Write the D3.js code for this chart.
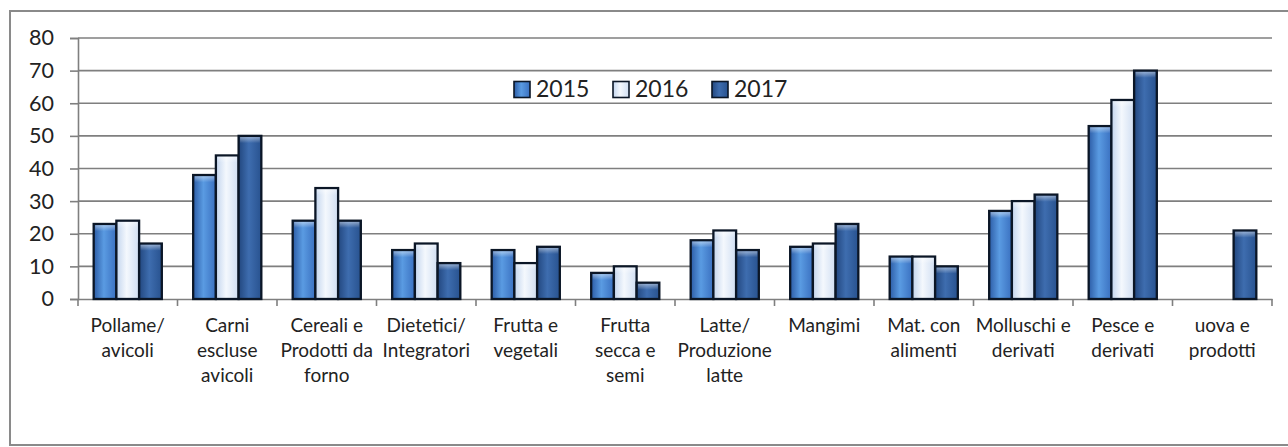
<!DOCTYPE html>
<html><head><meta charset="utf-8">
<script src="https://cdn.jsdelivr.net/npm/d3@7"></script>
<style>
html,body{margin:0;padding:0;background:#fff;}
svg{display:block;}
text{font-family:Lato,"Open Sans",sans-serif;fill:#222;}
</style></head>
<body>
<svg id="chart" width="1288" height="447"></svg>
<script>
const categories = ["Pollame/ avicoli","Carni escluse avicoli","Cereali e Prodotti da forno","Dietetici/ Integratori","Frutta e vegetali","Frutta secca e semi","Latte/ Produzione latte","Mangimi","Mat. con alimenti","Molluschi e derivati","Pesce e derivati","uova e prodotti"];
const categoryLines = [["Pollame/","avicoli"],["Carni","escluse","avicoli"],["Cereali e","Prodotti da","forno"],["Dietetici/","Integratori"],["Frutta e","vegetali"],["Frutta","secca e","semi"],["Latte/","Produzione","latte"],["Mangimi"],["Mat. con","alimenti"],["Molluschi e","derivati"],["Pesce e","derivati"],["uova e","prodotti"]];
const years = ["2015","2016","2017"];
const values2015 = [23,38,24,15,15,8,18,16,13,27,53,null];
const values2016 = [24,44,34,17,11,10,21,17,13,30,61,null];
const values2017 = [17,50,24,11,16,5,15,23,10,32,70,21];
const yTicks = [0,10,20,30,40,50,60,70,80];

const series = [values2015, values2016, values2017];
const svg = d3.select("#chart");

// gradients
const defs = svg.append("defs");
const grads = [
  ["g2015", ["#2c5ca6","#5a9be2","#3a70c0"]],
  ["g2016", ["#c3d5ee","#f4f8fd","#d0def2"]],
  ["g2017", ["#22477f","#3e6daf","#28528f"]]
];
grads.forEach(([id, cols]) => {
  const g = defs.append("linearGradient").attr("id", id).attr("x1","0%").attr("x2","100%").attr("y1","0%").attr("y2","0%");
  g.append("stop").attr("offset","0%").attr("stop-color",cols[0]);
  g.append("stop").attr("offset","45%").attr("stop-color",cols[1]);
  g.append("stop").attr("offset","100%").attr("stop-color",cols[2]);
});
const topHi = defs.append("linearGradient").attr("id","hi").attr("x1","0").attr("x2","0").attr("y1","0").attr("y2","1");
topHi.append("stop").attr("offset","0%").attr("stop-color","#ffffff").attr("stop-opacity",0.45);
topHi.append("stop").attr("offset","100%").attr("stop-color","#ffffff").attr("stop-opacity",0);

// outer frame
svg.append("rect").attr("x",10).attr("y",11).attr("width",1290).attr("height",434)
  .attr("fill","#fff").attr("stroke","#8a8a8a").attr("stroke-width",2);

const x0 = d3.scaleBand().domain(categories).range([78,1272]).padding(0);
const x1 = d3.scaleBand().domain(years).range([0, x0.bandwidth()]).paddingInner(0).paddingOuter(0.69);
const y = d3.scaleLinear().domain([0,80]).range([299,38]);

// gridlines
svg.append("g").selectAll("line").data(yTicks.filter(d=>d>0)).join("line")
  .attr("x1",78).attr("x2",1272).attr("y1",d=>y(d)).attr("y2",d=>y(d))
  .attr("stroke","#7f7f7f").attr("stroke-width",1.6);

// y axis
const yAxis = d3.axisLeft(y).tickValues(yTicks).tickSize(8).tickPadding(16);
const gy = svg.append("g").attr("transform","translate(78,0)").call(yAxis);
gy.select(".domain").attr("stroke","#7f7f7f").attr("stroke-width",1.6);
gy.selectAll(".tick line").attr("stroke","#7f7f7f").attr("stroke-width",1.6);
gy.selectAll(".tick text").attr("font-size",21.5).attr("font-family","Lato").attr("fill","#222");

// x axis
const xAxis = d3.axisBottom(x0).tickSize(0).tickFormat("");
const gx = svg.append("g").attr("transform","translate(0,299)").call(xAxis);
gx.select(".domain").attr("stroke","#7f7f7f").attr("stroke-width",1.6);
const boundaries = categories.map(c => x0(c)).concat([x0.range()[1]]);
gx.selectAll(".sep").data(boundaries).join("line").attr("class","sep")
  .attr("x1",d=>d).attr("x2",d=>d).attr("y1",0).attr("y2",7)
  .attr("stroke","#7f7f7f").attr("stroke-width",1.6);

// bars
const groups = svg.append("g").selectAll("g").data(categories).join("g")
  .attr("transform", c => `translate(${x0(c)},0)`);
groups.each(function(c, i){
  const g = d3.select(this);
  years.forEach((yr, k) => {
    const v = series[k][i];
    if (v == null) return;
    g.append("rect").attr("x", x1(yr)).attr("width", x1.bandwidth())
      .attr("y", y(v)).attr("height", y(0) - y(v))
      .attr("fill", `url(#g${yr})`).attr("stroke","#0b1626").attr("stroke-width",2.3);
    g.append("rect").attr("x", x1(yr)+1.5).attr("width", x1.bandwidth()-3)
      .attr("y", y(v)+1.2).attr("height", Math.min(6, y(0)-y(v)-1.2))
      .attr("fill","url(#hi)");
  });
});

// category labels
const labels = svg.append("g");
categories.forEach((c, i) => {
  const t = labels.append("text").attr("text-anchor","middle").attr("font-size",19)
    .attr("x", x0(c) + x0.bandwidth()/2).attr("y", 331.5);
  categoryLines[i].forEach((ln, j) => {
    t.append("tspan").attr("x", x0(c) + x0.bandwidth()/2).attr("dy", j===0?0:25).text(ln);
  });
});

// legend
const legendX = [514, 613, 712];
const lg = svg.append("g");
years.forEach((yr, k) => {
  lg.append("rect").attr("x", legendX[k]).attr("y", 81.5).attr("width",16).attr("height",16)
    .attr("fill", `url(#g${yr})`).attr("stroke","#0b1626").attr("stroke-width",1.6);
  lg.append("text").attr("x", legendX[k]+22).attr("y", 97).attr("font-size",23).text(yr);
});
</script>
</body></html>
